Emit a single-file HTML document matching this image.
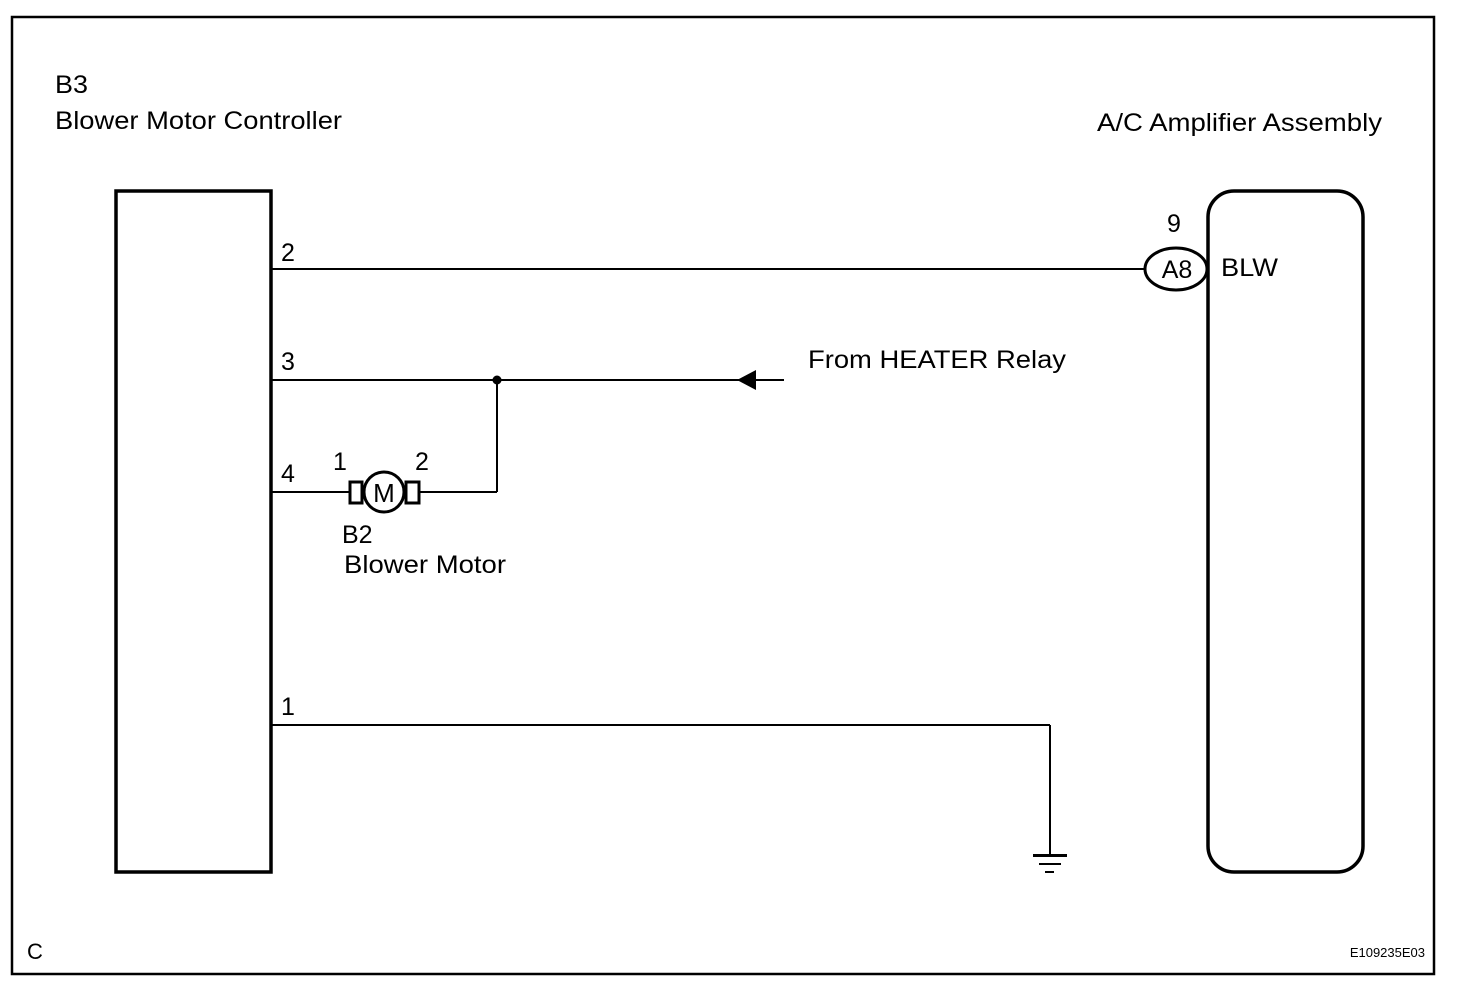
<!DOCTYPE html>
<html><head><meta charset="utf-8"><style>
html,body{margin:0;padding:0;background:#fff;}
svg{display:block;}
text{font-family:"Liberation Sans",Arial,sans-serif;fill:#000;}
</style></head><body>
<svg width="1472" height="998" viewBox="0 0 1472 998" xmlns="http://www.w3.org/2000/svg">
<rect x="12" y="17" width="1422" height="957" fill="none" stroke="#000" stroke-width="2.5"/>
<text x="55" y="93" font-size="25" textLength="33" lengthAdjust="spacingAndGlyphs">B3</text>
<text x="55" y="129" font-size="25" textLength="287" lengthAdjust="spacingAndGlyphs">Blower Motor Controller</text>
<text x="1097" y="131" font-size="25" textLength="285" lengthAdjust="spacingAndGlyphs">A/C Amplifier Assembly</text>
<rect x="116" y="191" width="155" height="681" fill="none" stroke="#000" stroke-width="3.5"/>
<rect x="1208" y="191" width="155" height="681" rx="26" ry="26" fill="none" stroke="#000" stroke-width="3.5"/>
<g stroke="#000" stroke-width="2" fill="none">
<line x1="272" y1="269" x2="1145" y2="269"/>
<line x1="272" y1="380" x2="784" y2="380"/>
<line x1="497" y1="380" x2="497" y2="492"/>
<line x1="272" y1="492" x2="350" y2="492"/>
<line x1="420" y1="492" x2="497" y2="492"/>
<line x1="272" y1="725" x2="1050" y2="725"/>
<line x1="1050" y1="725" x2="1050" y2="855"/>
</g>
<circle cx="497" cy="380" r="4.5" fill="#000"/>
<polygon points="737,380 756,370 756,390" fill="#000"/>
<text x="808" y="368" font-size="25" textLength="258" lengthAdjust="spacingAndGlyphs">From HEATER Relay</text>
<text x="281" y="261" font-size="25">2</text>
<text x="281" y="370" font-size="25">3</text>
<text x="281" y="482" font-size="25">4</text>
<text x="281" y="715" font-size="25">1</text>
<ellipse cx="1176" cy="269" rx="31" ry="21" fill="#fff" stroke="#000" stroke-width="3"/>
<text x="1177" y="278" font-size="25" text-anchor="middle">A8</text>
<text x="1174" y="232" font-size="25" text-anchor="middle">9</text>
<text x="1221" y="276" font-size="25" textLength="57" lengthAdjust="spacingAndGlyphs">BLW</text>
<rect x="350" y="482" width="12" height="21" fill="#fff" stroke="#000" stroke-width="3"/>
<rect x="406" y="482" width="13" height="21" fill="#fff" stroke="#000" stroke-width="3"/>
<circle cx="384" cy="492" r="20" fill="#fff" stroke="#000" stroke-width="3"/>
<text x="384" y="502" font-size="26" text-anchor="middle">M</text>
<text x="333" y="470" font-size="25">1</text>
<text x="415" y="470" font-size="25">2</text>
<text x="342" y="543" font-size="25">B2</text>
<text x="344" y="573" font-size="25" textLength="162" lengthAdjust="spacingAndGlyphs">Blower Motor</text>
<rect x="1033" y="854" width="34" height="3" fill="#000"/>
<rect x="1039" y="863" width="22" height="2" fill="#000"/>
<rect x="1045" y="871" width="9" height="2" fill="#000"/>
<text x="27" y="959" font-size="22">C</text>
<text x="1425" y="957" font-size="13" text-anchor="end">E109235E03</text>
</svg>
</body></html>
